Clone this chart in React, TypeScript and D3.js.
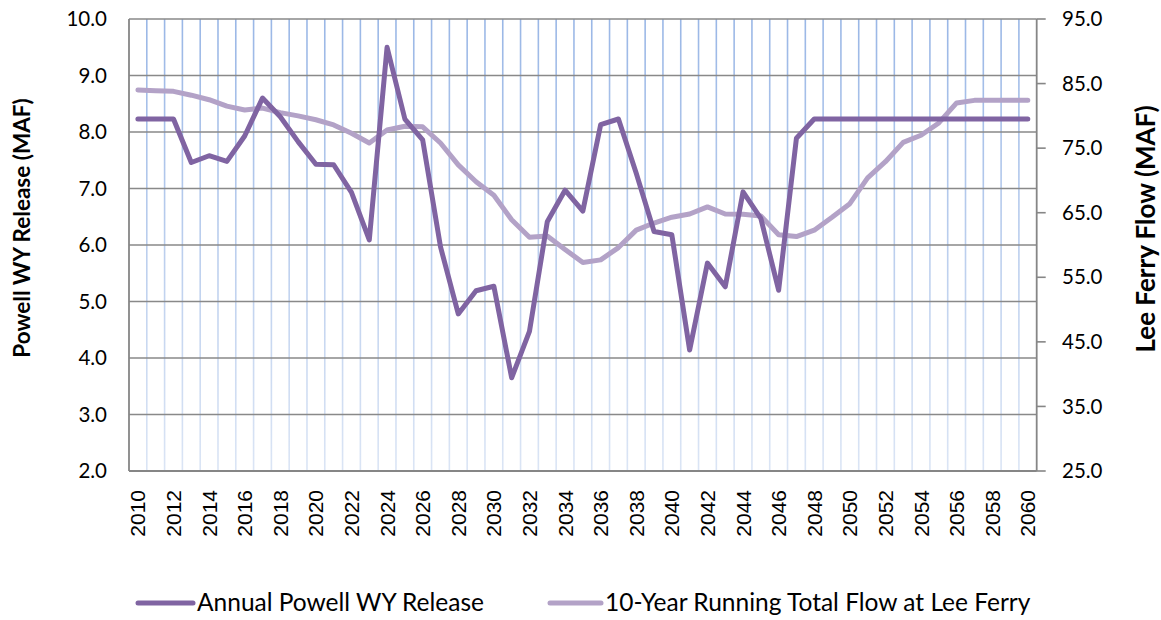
import * as d3 from "d3";

const years = d3.range(2010, 2061).map(String);

// Annual Powell WY Release (MAF), left axis
const powellRelease = [
  8.23, 8.23, 8.23, 7.46, 7.58, 7.48, 7.93, 8.6, 8.27, 7.83,
  7.43, 7.42, 6.93, 6.09, 9.5, 8.23, 7.86, 5.97, 4.78, 5.19,
  5.27, 3.65, 4.47, 6.41, 6.97, 6.6, 8.13, 8.23, 7.27, 6.24,
  6.18, 4.14, 5.68, 5.26, 6.94, 6.47, 5.2, 7.89, 8.23, 8.23,
  8.23, 8.23, 8.23, 8.23, 8.23, 8.23, 8.23, 8.23, 8.23, 8.23,
  8.23,
];

// 10-Year Running Total Flow at Lee Ferry (MAF), right axis
const leeFerryFlow = [
  84.0, 83.9, 83.8, 83.2, 82.5, 81.5, 80.9, 81.2, 80.5, 80.0,
  79.4, 78.6, 77.3, 75.8, 77.8, 78.4, 78.3, 75.8, 72.4, 69.8,
  67.7, 63.9, 61.2, 61.4, 59.3, 57.3, 57.7, 59.6, 62.3, 63.4,
  64.3, 64.8, 65.9, 64.8, 64.75, 64.5, 61.6, 61.3, 62.3, 64.3,
  66.4, 70.4, 72.9, 75.9, 77.0, 78.9, 82.0, 82.4, 82.4, 82.4,
  82.4,
];

const leftTicks = [2, 3, 4, 5, 6, 7, 8, 9, 10];
const rightTicks = [25, 35, 45, 55, 65, 75, 85, 95];
const yearLabels = years.filter((_, i) => i % 2 === 0);

const seriesNames = ["Annual Powell WY Release", "10-Year Running Total Flow at Lee Ferry"];

const W = 1161;
const H = 620;
const plot = { left: 129, right: 1036.7, top: 19, bottom: 471 };

const App = () => {
  const x = d3.scaleBand<string>().domain(years).range([plot.left, plot.right]).padding(0);
  const yL = d3.scaleLinear().domain([2, 10]).range([plot.bottom, plot.top]);
  const yR = d3.scaleLinear().domain([25, 95]).range([plot.bottom, plot.top]);
  const cx = (i: number) => (x(years[i]) as number) + x.bandwidth() / 2;

  const lineL = d3.line<number>().x((_, i) => cx(i)).y((d) => yL(d));
  const lineR = d3.line<number>().x((_, i) => cx(i)).y((d) => yR(d));

  const numFont = "Lato, 'Open Sans', sans-serif";

  return (
    <svg width={W} height={H} style={{ position: "absolute", left: 0, top: 0, background: "#fff" }}>
      <defs>
        <linearGradient id="vgrid" gradientUnits="userSpaceOnUse" x1="0" y1={plot.top} x2="0" y2={plot.bottom}>
          <stop offset="0" stopColor="#9ab7e6" />
          <stop offset="1" stopColor="#dbe5f5" />
        </linearGradient>
      </defs>

      {/* vertical gridlines at category boundaries */}
      {years.slice(1).map((yr) => (
        <line key={"v" + yr} x1={x(yr)} x2={x(yr)} y1={plot.top} y2={plot.bottom} stroke="url(#vgrid)" strokeWidth={1.6} />
      ))}

      {/* horizontal gridlines */}
      {leftTicks.map((t) => (
        <line key={"h" + t} x1={plot.left} x2={plot.right} y1={yL(t)} y2={yL(t)} stroke="#898989" strokeWidth={1.6} />
      ))}

      {/* axes */}
      <line x1={plot.left} x2={plot.left} y1={plot.top} y2={plot.bottom} stroke="#868686" strokeWidth={1.8} />
      <line x1={plot.right} x2={plot.right} y1={plot.top} y2={plot.bottom} stroke="#868686" strokeWidth={1.8} />
      <line x1={plot.left} x2={plot.right} y1={plot.bottom} y2={plot.bottom} stroke="#868686" strokeWidth={1.8} />
      {rightTicks.map((t) => (
        <line key={"rt" + t} x1={plot.right} x2={plot.right + 9} y1={yR(t)} y2={yR(t)} stroke="#868686" strokeWidth={1.6} />
      ))}

      {/* series */}
      <path d={lineR(leeFerryFlow) || ""} fill="none" stroke="#b3a2c7" strokeWidth={5} strokeLinejoin="round" strokeLinecap="round" />
      <path d={lineL(powellRelease) || ""} fill="none" stroke="#8064a2" strokeWidth={5} strokeLinejoin="round" strokeLinecap="round" />

      {/* left tick labels */}
      {leftTicks.map((t) => (
        <text key={"lt" + t} x={107} y={yL(t)} dy="0.35em" textAnchor="end" fontFamily={numFont} fontSize={20.5} fill="#000">
          {t.toFixed(1)}
        </text>
      ))}

      {/* right tick labels */}
      {rightTicks.map((t) => (
        <text key={"rl" + t} x={1062} y={yR(t)} dy="0.35em" textAnchor="start" fontFamily={numFont} fontSize={20.5} fill="#000">
          {t.toFixed(1)}
        </text>
      ))}

      {/* year labels */}
      {yearLabels.map((yr) => {
        const px = (x(yr) as number) + x.bandwidth() / 2;
        return (
          <text
            key={"yr" + yr}
            transform={`translate(${px + 7.5},${plot.bottom + 19}) rotate(-90)`}
            textAnchor="end"
            fontFamily="'Liberation Sans', Arial, sans-serif"
            fontSize={21}
            fill="#000"
          >
            {yr}
          </text>
        );
      })}

      {/* axis titles */}
      <text transform="translate(30,228) rotate(-90)" textAnchor="middle" fontFamily={numFont} fontWeight="bold" fontSize={22.5} fill="#000">
        Powell WY Release (MAF)
      </text>
      <text transform="translate(1155,229) rotate(-90)" textAnchor="middle" fontFamily={numFont} fontWeight="bold" fontSize={26} fill="#000">
        Lee Ferry Flow (MAF)
      </text>

      {/* legend */}
      <line x1={138} x2={193} y1={603} y2={603} stroke="#8064a2" strokeWidth={5} strokeLinecap="round" />
      <text x={197} y={611} fontFamily={numFont} fontSize={24.5} fill="#000">
        {seriesNames[0]}
      </text>
      <line x1={550} x2={601} y1={603} y2={603} stroke="#b3a2c7" strokeWidth={5} strokeLinecap="round" />
      <text x={605} y={611} fontFamily={numFont} fontSize={24.5} fill="#000">
        {seriesNames[1]}
      </text>
    </svg>
  );
};

export default App;
